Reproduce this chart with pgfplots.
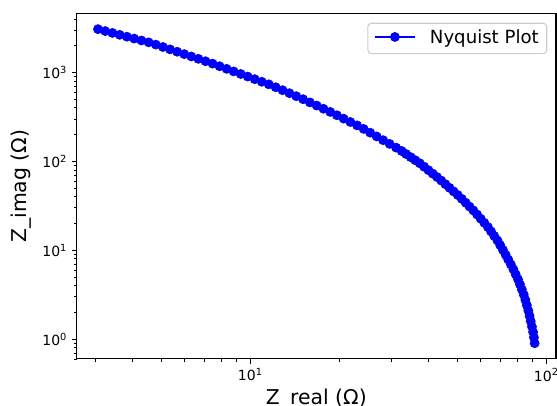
\documentclass[border=0pt]{standalone}
\usepackage{fontspec}
\setmainfont{DejaVu Sans}
\usepackage{pgfplots}
\pgfplotsset{compat=1.18}
\begin{document}
\begin{tikzpicture}
\path[use as bounding box] (-57.5pt,-35.25pt) rectangle (360.25pt,269.2pt);
\begin{axis}[
  at={(0pt,0pt)}, anchor=south west,
  scale only axis, width=359.5pt, height=259.1pt,
  xmode=log, ymode=log,
  xmin=2.59, xmax=107.8, ymin=0.6, ymax=4610,
  axis line style={line width=0.83pt, black},
  tick align=outside, tick pos=left,
  major tick length=3.65pt, minor tick length=2.08pt,
  every tick/.style={black, line width=0.83pt},
  every minor tick/.style={black, line width=0.62pt},
  xtick={10,100}, xticklabels={10\textsuperscript{1},10\textsuperscript{2}},
  ytick={1,10,100,1000}, yticklabels={10\textsuperscript{0},10\textsuperscript{1},10\textsuperscript{2},10\textsuperscript{3}},
  minor xtick={3,4,5,6,7,8,9,20,30,40,50,60,70,80,90},
  minor ytick={0.6,0.7,0.8,0.9,2,3,4,5,6,7,8,9,20,30,40,50,60,70,80,90,200,300,400,500,600,700,800,900,2000,3000,4000},
  ticklabel style={font=\fontsize{10.5}{12}\selectfont, text=black},
  xlabel={Z\_real (Ω)}, ylabel={Z\_imag (Ω)},
  label style={font=\fontsize{15.3}{18}\selectfont},
  xlabel style={at={(axis description cs:0.5,-0.1332)}, anchor=base},
  ylabel style={at={(axis description cs:-0.1163,0.5)}, anchor=center},
  legend style={at={(axis description cs:1,1)}, anchor=north east, xshift=-6.5pt, yshift=-6.9pt,
    draw=black!20, line width=0.83pt, rounded corners=2.7pt, fill=white, fill opacity=0.8, text opacity=1,
    font=\fontsize{13.6}{16}\selectfont, inner xsep=4.5pt, inner ysep=4.7pt, column sep=10.5pt,
    nodes={inner sep=0pt, text height=10.2pt, text depth=3.2pt, anchor=base west}},
  legend image code/.code={\draw[mark repeat=2, mark phase=2, fill opacity=1, draw opacity=1] plot coordinates {(0pt,4.6pt) (15pt,4.6pt) (30pt,4.6pt)};},
]
\addplot[color=blue, line width=1.56pt, mark=*, mark size=3.4pt, mark options={solid, fill=blue, draw=blue, line width=0.5pt, fill opacity=1, draw opacity=1}] coordinates {
(3.057,3070) (3.234,2923) (3.421,2784) (3.620,2651) (3.829,2525) (4.051,2405) (4.286,2290) (4.534,2181)
(4.792,2058) (5.065,1935) (5.353,1820) (5.657,1711) (5.978,1609) (6.317,1513) (6.676,1423) (7.056,1338)
(7.456,1257) (7.874,1175) (8.316,1099) (8.784,1028) (9.277,961.4) (9.798,899.3) (10.348,841.0) (10.930,786.6)
(11.544,735.6) (12.180,682.4) (12.847,631.8) (13.553,584.8) (14.295,541.4) (15.076,500.1) (15.894,460.6) (16.754,424.3)
(17.662,390.8) (18.621,360.0) (19.616,330.0) (20.663,302.5) (21.771,277.3) (22.934,254.2) (24.141,231.8) (25.392,210.4)
(26.707,190.9) (28.086,173.3) (29.545,157.3) (31.076,142.8)
(32.445,130.8) (33.615,120.8) (34.82,111.6) (36.08,103.0) (37.38,95.12) (38.65,87.05) (39.96,79.64) (41.31,72.85)
(42.71,66.66) (44.14,60.88) (45.58,55.43) (47.07,50.47) (48.61,45.95) (50.19,41.84) (51.78,37.96) (53.37,34.33)
(55.00,31.04) (56.69,28.06) (58.34,25.26) (60.00,22.68) (61.71,20.37) (63.44,18.28) (65.04,16.29) (66.67,14.50)
(68.35,12.91) (69.83,11.42) (71.34,10.09) (72.86,8.916) (74.35,7.865) (75.87,6.939) (77.37,6.114) (78.77,5.372)
(80.19,4.721) (81.46,4.136) (82.67,3.618) (83.90,3.165) (84.94,2.762) (85.94,2.409) (86.93,2.100) (87.77,1.827)
(88.60,1.590) (89.42,1.384) (90.20,1.204) (90.80,1.046) (91.32,0.9016)
};
\addlegendentry{Nyquist Plot\hspace*{1.5pt}}
\end{axis}
\end{tikzpicture}
\end{document}
